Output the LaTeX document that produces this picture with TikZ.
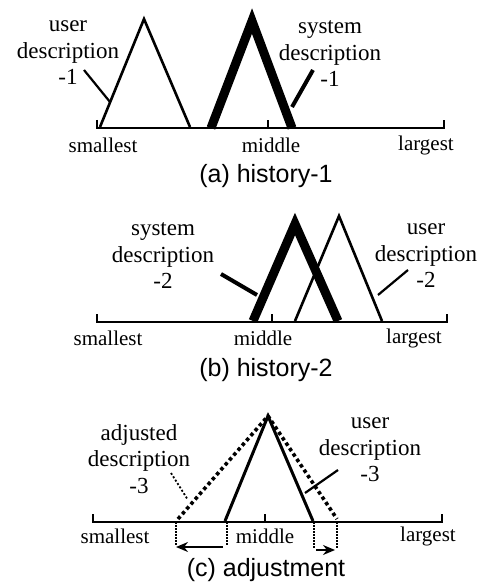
\documentclass[tikz,border=0pt]{standalone}
\usepackage{fontspec}
\setmainfont{Liberation Serif}
\setsansfont{Liberation Sans}
\usetikzlibrary{arrows.meta}

\begin{document}
\begin{tikzpicture}[
        x=1pt, y=-1pt,
        >=Stealth,
        axisline/.style={line width=1.8pt},
        userline/.style={line width=2.6pt},
        sysline/.style={line width=9pt, line join=miter},
        adjline/.style={line width=3.6pt, dash pattern=on 3.5pt off 3pt},
        userleader/.style={line width=2.2pt},
        sysleader/.style={line width=4pt},
        adjleader/.style={line width=1.8pt, dash pattern=on 2pt off 2pt},
        guide/.style={line width=1.3pt, dash pattern=on 1.5pt off 1.5pt},
        shiftarrow/.style={->, line width=1.6pt, >={Stealth[length=12pt, width=10pt]}},
        axlabel/.style={inner sep=0pt, font=\fontsize{21}{24}\selectfont},
        desc/.style={inner sep=0pt, align=center, font=\fontsize{23}{26.5}\selectfont},
        caption/.style={inner sep=0pt, font=\sffamily\fontsize{25}{28}\selectfont}
    ]
    \useasboundingbox (0,0) rectangle (492,588);

    % (a) history-1
    \draw[axisline] (97,120) -- (97,128) -- (444,128) -- (444,120);
    \draw[axisline] (268,128) -- (268,120);
    \node[axlabel] (small1) at (103,145) {smallest};
    \node[axlabel] (mid1) at (271,145) {middle};
    \node[axlabel] (large1) at (426,145) {largest};
    \node[caption] (cap1) at (266,176) {(a) history-1};

    \coordinate (u1l) at (100,127);
    \coordinate (u1top) at (144,19);
    \coordinate (u1r) at (190,127);
    \draw[userline] (u1l) -- (u1top) -- (u1r);
    \coordinate (s1l) at (211,128);
    \coordinate (s1top) at (252,21);
    \coordinate (s1r) at (292,128);
    \draw[sysline] (s1l) -- (s1top) -- (s1r);

    \node[desc] (u1) at (68,53) {user\\description\\-1};
    \node[desc] (s1) at (330,54) {system\\description\\-1};
    \coordinate (u1from) at (84,70);
    \coordinate (u1to) at (110,102);
    \coordinate (s1from) at (313,70);
    \coordinate (s1to) at (292,107);
    \draw[userleader] (u1from) -- (u1to);
    \draw[sysleader] (s1from) -- (s1to);

    % (b) history-2
    \draw[axisline] (97,314) -- (97,322) -- (447,322) -- (447,314);
    \draw[axisline] (272,322) -- (272,314);
    \node[axlabel] (small2) at (108,338) {smallest};
    \node[axlabel] (mid2) at (263,338) {middle};
    \node[axlabel] (large2) at (414,338) {largest};
    \node[caption] (cap2) at (266,370) {(b) history-2};

    \coordinate (s2l) at (253,321);
    \coordinate (s2top) at (295,224);
    \coordinate (s2r) at (338,321);
    \draw[sysline] (s2l) -- (s2top) -- (s2r);
    \coordinate (u2l) at (295,321);
    \coordinate (u2top) at (339,216);
    \coordinate (u2r) at (382,321);
    \draw[userline] (u2l) -- (u2top) -- (u2r);

    \node[desc] (s2) at (163,256) {system\\description\\-2};
    \node[desc] (u2) at (426,256) {user\\description\\-2};
    \coordinate (s2from) at (221,274);
    \coordinate (s2to) at (257,295);
    \coordinate (u2from) at (408,270);
    \coordinate (u2to) at (378,295);
    \draw[sysleader] (s2from) -- (s2to);
    \draw[userleader] (u2from) -- (u2to);

    % (c) adjustment
    \draw[axisline] (93,514) -- (93,522) -- (442,522) -- (442,514);
    \draw[axisline] (265,522) -- (265,514);
    \node[axlabel] (small3) at (115,536) {smallest};
    \node[axlabel] (mid3) at (265,536) {middle};
    \node[axlabel] (large3) at (428,536) {largest};
    \node[caption] (cap3) at (266,570) {(c) adjustment};

    \coordinate (top3) at (268,416);
    \coordinate (a3l) at (178,519);
    \coordinate (a3r) at (337,519);
    \coordinate (u3l) at (225,521);
    \coordinate (u3r) at (313,521);
    \draw[adjline] (a3l) -- (top3) -- (a3r);
    \draw[userline, line width=3pt] (u3l) -- (top3) -- (u3r);

    \node[desc] (a3) at (139,459) {adjusted\\description\\-3};
    \node[desc] (u3) at (370,450) {user\\description\\-3};
    \coordinate (a3from) at (171,473);
    \coordinate (a3to) at (188,500);
    \coordinate (u3from) at (338,470);
    \coordinate (u3to) at (305,493);
    \draw[adjleader] (a3from) -- (a3to);
    \draw[userleader] (u3from) -- (u3to);

    \coordinate (g1) at (176,546);
    \coordinate (g2) at (227,546);
    \coordinate (g3) at (314,548);
    \coordinate (g4) at (337,548);
    \draw[guide] (176,522) -- (g1);
    \draw[guide] (227,522) -- (g2);
    \draw[guide] (314,522) -- (g3);
    \draw[guide] (337,522) -- (g4);
    \coordinate (w1) at (223,547);
    \coordinate (w2) at (176,547);
    \coordinate (e1) at (316,550);
    \coordinate (e2) at (335,550);
    \draw[shiftarrow] (w1) -- (w2);
    \draw[shiftarrow] (e1) -- (e2);

\end{tikzpicture}
\end{document}
